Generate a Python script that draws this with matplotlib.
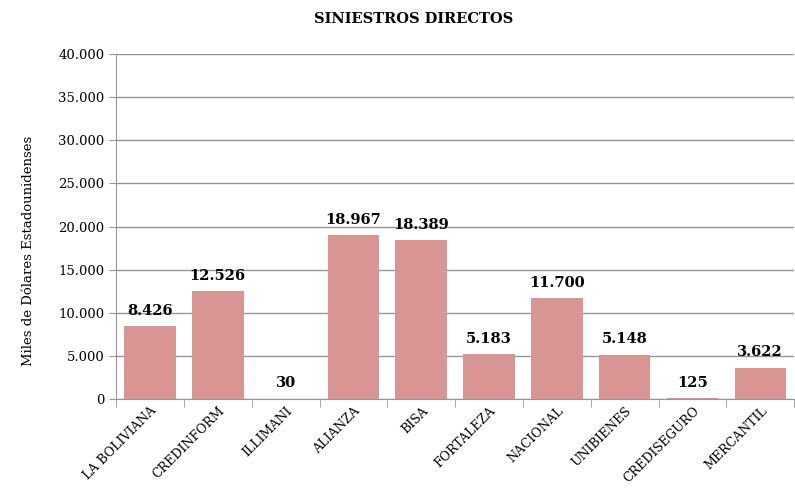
import matplotlib
matplotlib.use("Agg")
import matplotlib.pyplot as plt
from matplotlib.ticker import FuncFormatter

categories = ["LA BOLIVIANA", "CREDINFORM", "ILLIMANI", "ALIANZA", "BISA",
              "FORTALEZA", "NACIONAL", "UNIBIENES", "CREDISEGURO", "MERCANTIL"]
values = [8426, 12526, 30, 18967, 18389, 5183, 11700, 5148, 125, 3622]

plt.rcParams['font.family'] = ['DejaVu Serif']

fig = plt.figure(figsize=(7.95, 4.92), dpi=100)
ax = fig.add_axes([0.146, 0.189, 0.853, 0.701])

x = list(range(len(categories)))
bars = ax.bar(x, values, width=0.76, color="#D99594", zorder=3)

def fmt(v, pos=None):
    return f"{int(v):,}".replace(",", ".")

for xi, v in zip(x, values):
    ax.annotate(fmt(v), (xi, v), xytext=(0, 6), textcoords="offset points",
                ha="center", va="bottom", fontsize=10.5, fontweight="bold")

ax.set_ylim(0, 40000)
ax.set_xlim(-0.5, len(categories) - 0.5)
ax.set_yticks(range(0, 40001, 5000))
ax.yaxis.set_major_formatter(FuncFormatter(fmt))
ax.grid(axis="y", color="#969696", linewidth=1, zorder=0)
ax.set_axisbelow(True)

for s in ["top", "right"]:
    ax.spines[s].set_visible(False)
ax.spines["left"].set_color("#969696")
ax.spines["bottom"].set_color("#969696")

ax.set_xticks(x)
ax.set_xticklabels(categories, rotation=45, ha="right", rotation_mode="anchor", fontsize=9)
ax.tick_params(axis="x", length=0, pad=4)
ax.set_xticks([i + 0.5 for i in range(-1, len(categories))], minor=True)
ax.tick_params(axis="x", which="minor", length=6, color="#969696")
ax.tick_params(axis="y", length=5, color="#969696", labelsize=9.5)

ax.set_ylabel("Miles de Dólares Estadounidenses", fontsize=9.5)
ax.yaxis.set_label_coords(-0.12, 0.43)
fig.suptitle("SINIESTROS DIRECTOS", x=0.52, y=0.975, fontsize=10.5, fontweight="bold")

fig.savefig("out.png", dpi=100)
